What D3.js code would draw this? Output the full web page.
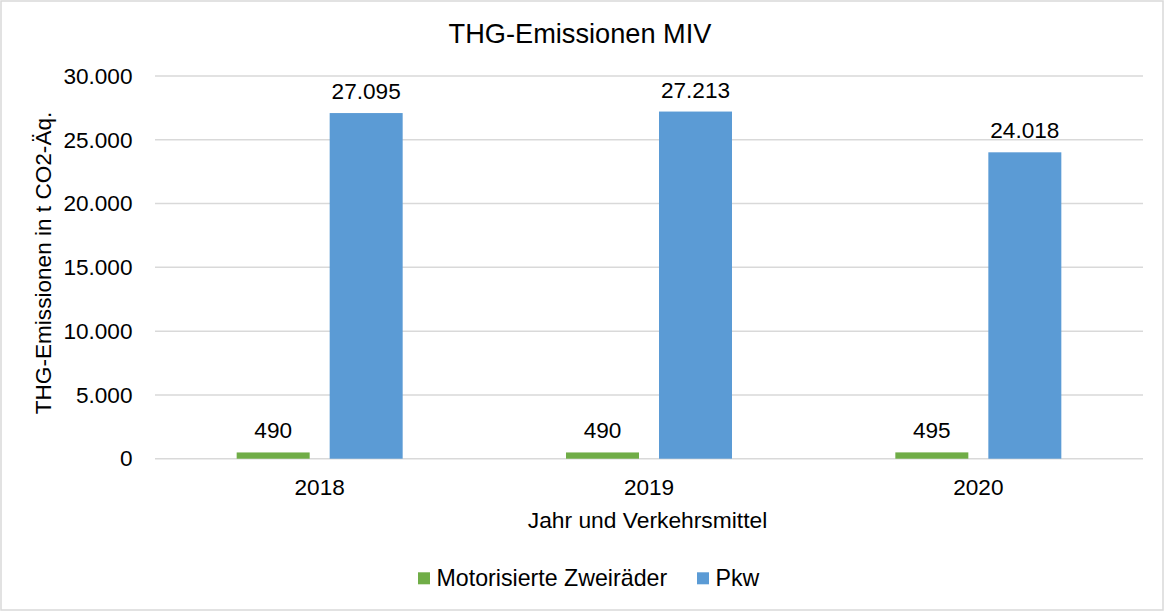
<!DOCTYPE html>
<html>
<head>
<meta charset="utf-8">
<script src="https://cdn.jsdelivr.net/npm/d3@7"></script>
<style>
  html, body { margin: 0; padding: 0; background: #fff; }
  svg { display: block; }
  text { font-family: "Liberation Sans", Arial, sans-serif; fill: #000; }
</style>
</head>
<body>
<svg id="chart" width="1164" height="611"></svg>
<script>
const categories = ["2018", "2019", "2020"];
const seriesNames = ["Motorisierte Zweiräder", "Pkw"];
const zweiraeder = [490, 490, 495];
const pkw = [27095, 27213, 24018];
const yTicks = [0, 5000, 10000, 15000, 20000, 25000, 30000];
const colors = ["#70AD47", "#5B9BD5"];

const svg = d3.select("#chart");
const W = 1164, H = 611;

svg.append("rect").attr("x", 1).attr("y", 1).attr("width", W - 2).attr("height", H - 2)
  .attr("fill", "#fff").attr("stroke", "#D9D9D9").attr("stroke-width", 1.5);

const plot = { left: 155, right: 1143, top: 76, bottom: 458.7 };

const y = d3.scaleLinear().domain([0, 30000]).range([plot.bottom, plot.top]);
const x0 = d3.scaleBand().domain(categories).range([plot.left, plot.right]).paddingInner(0).paddingOuter(0);
const x1 = d3.scaleBand().domain(seriesNames).range([0, 166]).paddingInner(20 / 93).paddingOuter(0);
const groupOffset = (x0.bandwidth() - 166) / 2;

const fmt = v => d3.format(",")(v).replace(/,/g, ".");

// gridlines
svg.append("g").selectAll("line").data(yTicks).join("line")
  .attr("x1", plot.left).attr("x2", plot.right)
  .attr("y1", d => y(d)).attr("y2", d => y(d))
  .attr("stroke", "#D9D9D9").attr("stroke-width", 1.5);

// y axis labels via d3 axis
const yAxis = d3.axisLeft(y).tickValues(yTicks).tickFormat(fmt).tickSize(0).tickPadding(0);
const gy = svg.append("g").attr("transform", `translate(132.5,0)`).call(yAxis);
gy.select(".domain").remove();
gy.selectAll("text").attr("font-size", "22.6px").attr("fill", "#000")
  .attr("font-family", '"Liberation Sans", Arial, sans-serif');

// x axis labels
const xAxis = d3.axisBottom(x0).tickSize(0).tickPadding(0);
const gx = svg.append("g").attr("transform", `translate(0,${plot.bottom})`).call(xAxis);
gx.select(".domain").remove();
gx.selectAll("text").attr("font-size", "22.6px").attr("fill", "#000")
  .attr("font-family", '"Liberation Sans", Arial, sans-serif')
  .attr("dy", null).attr("y", 36.5);

// bars
const seriesData = [zweiraeder, pkw];
seriesData.forEach((vals, si) => {
  const g = svg.append("g");
  g.selectAll("rect").data(vals).join("rect")
    .attr("x", (d, i) => x0(categories[i]) + groupOffset + x1(seriesNames[si]))
    .attr("width", x1.bandwidth())
    .attr("y", d => y(d))
    .attr("height", d => y(0) - y(d))
    .attr("fill", colors[si]);
  g.selectAll("text").data(vals).join("text")
    .attr("x", (d, i) => x0(categories[i]) + groupOffset + x1(seriesNames[si]) + x1.bandwidth() / 2)
    .attr("y", d => y(d) - 14)
    .attr("text-anchor", "middle")
    .attr("font-size", "22.6px")
    .text(fmt);
});

// title
svg.append("text").attr("x", 580).attr("y", 42.7).attr("text-anchor", "middle")
  .attr("font-size", "27.2px").text("THG-Emissionen MIV");

// axis titles
svg.append("text").attr("x", 647.5).attr("y", 528).attr("text-anchor", "middle")
  .attr("font-size", "22.8px").text("Jahr und Verkehrsmittel");
svg.append("text").attr("transform", "translate(51,263) rotate(-90)").attr("text-anchor", "middle")
  .attr("font-size", "22.6px").text("THG-Emissionen in t CO2-Äq.");

// legend
const legendItems = [{ name: seriesNames[0], x: 418 }, { name: seriesNames[1], x: 697 }];
const lg = svg.append("g");
legendItems.forEach((it, i) => {
  lg.append("rect").attr("x", it.x).attr("y", 572.3).attr("width", 12).attr("height", 12).attr("fill", colors[i]);
  lg.append("text").attr("x", it.x + 18.5).attr("y", 585.7).attr("font-size", "23.2px").text(it.name);
});
</script>
</body>
</html>
